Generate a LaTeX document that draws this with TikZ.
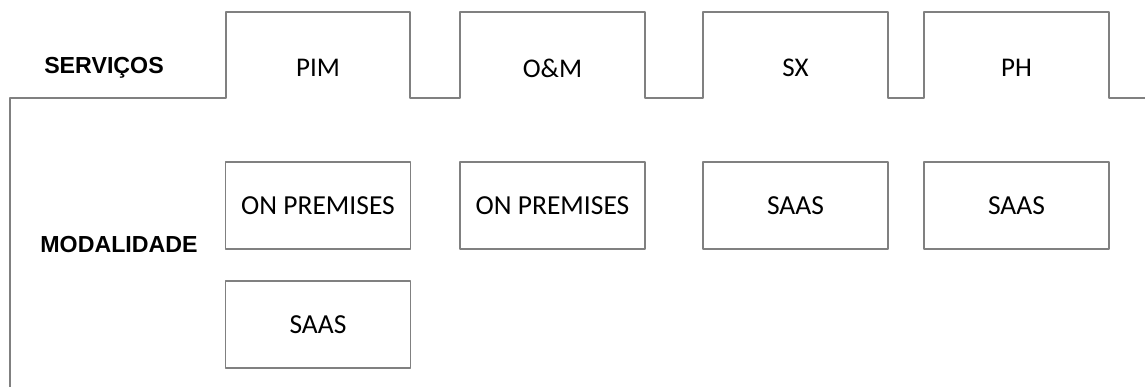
\documentclass[tikz,border=0pt]{standalone}
\usepackage{fontspec}
\setmainfont{Carlito}
\newfontfamily\headfont{Liberation Sans}
\begin{document}
\begin{tikzpicture}[x=1pt,y=-1pt,
    outline/.style={draw=gray,line width=1.3pt,line join=round},
    modbox/.style={outline,minimum width=185pt,minimum height=87pt,inner sep=0pt,font=\fontsize{27.5}{31}\selectfont},
    tablabel/.style={font=\fontsize{27}{31}\selectfont},
    rowlabel/.style={font=\headfont\bfseries\fontsize{23.2}{27}\selectfont}]
    \useasboundingbox (0,0) rectangle (1145,387);

    % tab strip across the top
    \draw[outline] (10,387) -- (10,98)
        -- (226,98) -- (226,12) -- (410,12) -- (410,98)
        -- (460,98) -- (460,12) -- (645,12) -- (645,98)
        -- (703,98) -- (703,12) -- (888,12) -- (888,98)
        -- (924,98) -- (924,12) -- (1109,12) -- (1109,98)
        -- (1145,98);

    \node[rowlabel] (servicos) at (104,68) {SERVIÇOS};
    \node[rowlabel] (modalidade) at (119,245) {MODALIDADE};

    \node[tablabel] (pim) at (318,68) {PIM};
    \node[tablabel] (om) at (552.5,68) {O\&M};
    \node[tablabel] (sx) at (795.5,68) {SX};
    \node[tablabel] (ph) at (1016.5,68) {PH};

    % one box per mode, under its tab
    \node[modbox] (pimOnPrem) at (318,205.5) {ON PREMISES};
    \node[modbox] (pimSaas) at (318,324.5) {SAAS};
    \node[modbox] (omOnPrem) at (552.5,205.5) {ON PREMISES};
    \node[modbox] (sxSaas) at (795.5,205.5) {SAAS};
    \node[modbox] (phSaas) at (1016.5,205.5) {SAAS};
\end{tikzpicture}
\end{document}
